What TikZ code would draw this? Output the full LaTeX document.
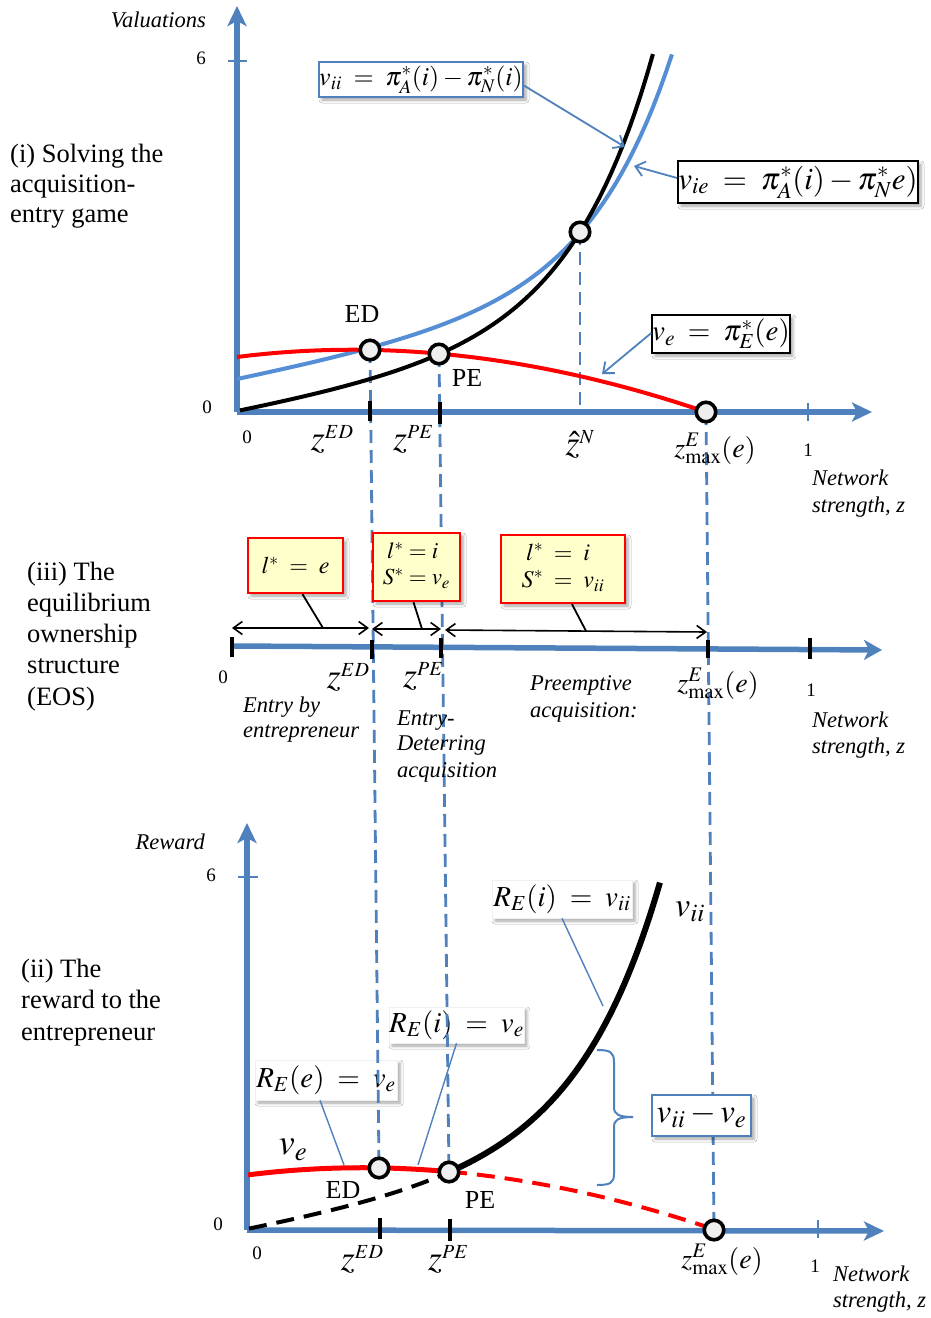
\documentclass[tikz,border=0pt]{standalone}
\usepackage{mathptmx}
\usepackage[no-math]{fontspec}
\setmainfont{Liberation Serif}
\usetikzlibrary{arrows.meta,shadows.blur,calc}
\definecolor{axblue}{HTML}{4F81BD}
\definecolor{cblue}{HTML}{558ED5}
\definecolor{dotfill}{HTML}{EEEEEE}
\definecolor{yel}{HTML}{FFFFCC}
\newcommand{\zs}[2]{{\fontsize{36}{36}\selectfont$#1$}\raisebox{12pt}{\fontsize{20}{20}\selectfont$#2$}}
\newcommand{\zmx}{$z^{E}_{\mathrm{max}}(e)$}
\tikzset{
 declare function={
   fb(\u)=18.4*\u+1.919*(exp(1.2*\u)-1);
   fu(\u)=33+19.7*\u+1.3*(exp(1.2*\u)-1);
   fr(\u)=55+12.715*\u-5.67*\u*\u+0.0978*\u*\u*\u;
 },
 axis/.style={line width=5.5pt, draw=axblue, -{Stealth[length=20pt,width=19pt,inset=5pt]}},
 vdash/.style={line width=2.8pt, draw=axblue, dash pattern=on 13pt off 7pt},
 btick/.style={line width=3.3pt, draw=black},
 bluetick/.style={line width=2pt, draw=axblue},
 dot/.style={circle, draw=black, line width=3.6pt, fill=dotfill, minimum size=19.5pt, inner sep=0pt},
 lead/.style={line width=1.8pt, draw=axblue, -{Straight Barb[length=9pt,width=15pt]}},
 thinlead/.style={line width=1.4pt, draw=axblue},
 blackline/.style={line width=1.8pt, draw=black},
 dbl/.style={line width=1.6pt, draw=black, {Straight Barb[length=9pt,width=13pt]}-{Straight Barb[length=9pt,width=13pt]}},
 shad/.style={blur shadow={shadow xshift=3pt, shadow yshift=-3pt, shadow blur radius=3pt, shadow opacity=35}},
 eqbox/.style={draw, fill=white, line width=1.8pt, inner sep=0pt, shad},
 ybox/.style={draw=red, line width=2.4pt, fill=yel, inner sep=0pt, shad},
 wbox/.style={fill=white, draw=gray!12, line width=0.6pt, inner sep=0pt, shad},
 side/.style={font=\fontsize{26.5}{31}\selectfont, anchor=base west, inner sep=0pt},
 ital/.style={font=\fontsize{22.5}{26}\selectfont\itshape, anchor=base west, inner sep=0pt},
 num/.style={font=\fontsize{19}{19}\selectfont, inner sep=0pt},
 big/.style={font=\fontsize{26}{26}\selectfont, inner sep=0pt},
 zlab/.style={font=\fontsize{28}{28}\selectfont, anchor=base, inner sep=0pt},
}
\begin{document}
\begin{tikzpicture}[x=1pt,y=-1pt]
\useasboundingbox (0,0) rectangle (930,1318);
\fill[white] (0,0) rectangle (930,1318);

% ---------------- key points ----------------
\coordinate (ED1) at (370,350);
\coordinate (PE1) at (439,354);
\coordinate (X1) at (580,232);
\coordinate (ZM1) at (706,412);
\coordinate (ZN) at (580,412);
\coordinate (ED3) at (379,1168);
\coordinate (PE3) at (449,1172);
\coordinate (ZM3) at (714,1230);

% ---------------- panel (i) ----------------
\coordinate (o1) at (237,412);
\coordinate (ytop1) at (237,6);
\coordinate (xend1) at (872,412);
\draw[axis] (o1) -- (ytop1);
\draw[axis] (o1) -- (xend1);
\draw[bluetick] (228,61) -- (247,61);
\draw[bluetick] (808,403) -- (808,421);

% bottom label boxes under dashed lines
\node[wbox, minimum width=133pt, minimum height=36pt, font=\fontsize{29}{29}\selectfont] (rei) at (456.5,1025) {$R_E(i)\;=\;v_e$};
\node[wbox, minimum width=142pt, minimum height=40pt, font=\fontsize{29}{29}\selectfont] (ree) at (326,1080) {$R_E(e)\;=\;v_e$};

% dashed verticals
\draw[vdash] (ED1) -- (ED3);
\draw[vdash] (PE1) -- (PE3);
\draw[vdash] (ZM1) -- (ZM3);
\draw[vdash] (X1) -- (ZN);

% curves panel (i)
\draw[line width=4pt, cblue] plot[domain=0:4.35, samples=70, variable=\s] ({237+100*\s},{412-fu(\s)});
\draw[line width=4pt, black] plot[domain=0.03:4.16, samples=70, variable=\s] ({237+100*\s},{411-fb(\s)});
\draw[line width=4pt, red] plot[domain=0:4.69, samples=70, variable=\s] ({237+100*\s},{412-fr(\s)});

\draw[btick] (370,401) -- (370,421);
\draw[btick] (440,402) -- (440,424);

\node[dot] (ed1) at (ED1) {};
\node[dot] (pe1) at (PE1) {};
\node[dot] (x1) at (X1) {};
\node[dot] (zm1) at (ZM1) {};

\node[ital, anchor=base east] (valu) at (206,27) {Valuations};
\node[num] (six1) at (201,58) {6};
\node[num] (zy1) at (207,407) {0};
\node[num] (zx1) at (247,437) {0};
\node[num] (one1) at (808,450) {1};
\node[big] (edl1) at (362,314) {ED};
\node[big] (pel1) at (467,378) {PE};
\node[zlab] (zed1) at (332,450) {\zs{z}{ED}};
\node[zlab] (zpe1) at (413,450) {\zs{z}{PE}};
\node[zlab] (zn1) at (580,455) {\zs{\hat{z}}{N}};
\node[zlab] (zmx1) at (715,457) {\zmx};
\node[ital] (nw1) at (812,485) {Network};
\node[ital] (ns1) at (812,512) {strength, z};

\node[side] (t1a) at (10,162) {(i) Solving the};
\node[side] (t1b) at (10,192) {acquisition-};
\node[side] (t1c) at (10,222) {entry game};

\node[eqbox, draw=axblue, minimum width=204pt, minimum height=35pt, font=\fontsize{26}{26}\selectfont] (bvii) at (421,79.5) {$v_{ii}\;=\;\pi^*_A(i)-\pi^*_N(i)$};
\node[eqbox, minimum width=240pt, minimum height=42pt, font=\fontsize{31}{31}\selectfont] (bvie) at (798,182) {$v_{ie}\;=\;\pi^*_A(i)-\pi^*_N e)$};
\node[eqbox, minimum width=134pt, minimum height=38pt, font=\fontsize{29}{29}\selectfont] (bve) at (721,334) {$v_e\;=\;\pi^*_E(e)$};
\coordinate (a1) at (625,147);
\coordinate (a2) at (634,166);
\coordinate (a3) at (602,374);
\draw[lead] ($(bvii.east)+(0,6)$) -- (a1);
\draw[lead] ($(bvie.west)+(0,-4)$) -- (a2);
\draw[lead] ($(bve.west)+(0,-1)$) -- (a3);

% ---------------- panel (iii) ----------------
\coordinate (o2) at (232,646);
\coordinate (xend2) at (882,650);
\draw[axis, -{Stealth[length=18pt,width=20pt,inset=5pt]}] (o2) -- (xend2);
\draw[btick] (232,637) -- (232,657);
\draw[btick] (372,640) -- (372,659);
\draw[btick] (441,638) -- (441,658);
\draw[btick] (708,640) -- (708,658);
\draw[btick] (810,638) -- (810,659);

\coordinate (m0) at (232,628);
\coordinate (m1) at (369,628);
\coordinate (m2) at (372,629);
\coordinate (m3) at (441,629);
\coordinate (m4) at (445,630);
\coordinate (m5) at (707,632);
\draw[dbl] (m0) -- (m1);
\draw[dbl] (m2) -- (m3);
\draw[dbl] (m4) -- (m5);

\node[ybox, minimum width=95pt, minimum height=55pt, font=\fontsize{24}{24}\selectfont] (yb1) at (295.5,565.5) {$l^*\;=\;e$};
\node[ybox, minimum width=87pt, minimum height=68pt, font=\fontsize{23}{23}\selectfont] (yb2) at (416.5,567) {$\begin{array}{@{}r@{\;=\;}l@{}} l^* & i\\[3pt] S^* & v_e\end{array}$};
\node[ybox, minimum width=124pt, minimum height=68pt, font=\fontsize{24}{24}\selectfont] (yb3) at (563,569) {$\begin{array}{@{}r@{\;\;=\;\;}l@{}} l^* & i\\[3pt] S^* & v_{ii}\end{array}$};
\coordinate (l1) at (323,628);
\coordinate (l2) at (422,629);
\coordinate (l3) at (586,631);
\draw[blackline] ($(yb1.south)+(7,0)$) -- (l1);
\draw[blackline] ($(yb2.south)+(-3,0)$) -- (l2);
\draw[blackline] ($(yb3.south)+(9,0)$) -- (l3);

\node[num] (z2) at (223,677) {0};
\node[zlab] (zed2) at (348,688) {\zs{z}{ED}};
\node[zlab] (zpe2) at (423,687) {\zs{z}{PE}};
\node[zlab] (zmx2) at (718,692) {\zmx};
\node[num] (one2) at (811,690) {1};
\node[ital] (nw2) at (812,727) {Network};
\node[ital] (ns2) at (812,753) {strength, z};
\node[ital] (eb1) at (243,712) {Entry by};
\node[ital] (eb2) at (243,737) {entrepreneur};
\node[ital] (ed2a) at (397,725) {Entry-};
\node[ital] (ed2b) at (397,750) {Deterring};
\node[ital] (ed2c) at (397,777) {acquisition};
\node[ital] (pa1) at (530,690) {Preemptive};
\node[ital] (pa2) at (530,717) {acquisition:};

\node[side] (t3a) at (27,580) {(iii) The};
\node[side] (t3b) at (27,611) {equilibrium};
\node[side] (t3c) at (27,642) {ownership};
\node[side] (t3d) at (27,673) {structure};
\node[side] (t3e) at (27,705) {(EOS)};

% ---------------- panel (ii) ----------------
\coordinate (o3) at (247,1230);
\coordinate (ytop3) at (247,823);
\coordinate (xend3) at (884,1231);
\draw[axis] (o3) -- (ytop3);
\draw[axis] (o3) -- (xend3);
\draw[bluetick] (238,877) -- (258,877);
\draw[bluetick] (818,1220) -- (818,1238);

\draw[line width=4pt, black, dash pattern=on 18pt off 10pt] plot[domain=0.02:2.02, samples=40, variable=\s] ({247+100*\s},{1229-fb(\s)});
\draw[line width=6pt, black] plot[domain=2.02:4.13, samples=60, variable=\s] ({247+100*\s},{1229-fb(\s)});
\draw[line width=4pt, red, dash pattern=on 18pt off 10pt] plot[domain=2.02:4.67, samples=50, variable=\s] ({247+100*\s},{1230-fr(\s)});
\draw[line width=5pt, red] plot[domain=0.01:2.02, samples=40, variable=\s] ({247+100*\s},{1230-fr(\s)});

\draw[btick] (380,1218) -- (380,1239);
\draw[btick] (450,1219) -- (450,1241);

\node[dot] (ed3) at (ED3) {};
\node[dot] (pe3) at (PE3) {};
\node[dot] (zm3) at (ZM3) {};

\node[ital, anchor=base east] (rew) at (205,849) {Reward};
\node[num] (six3) at (211,875) {6};
\node[num] (zy3) at (218,1224) {0};
\node[num] (zx3) at (257,1253) {0};
\node[num] (one3) at (815,1266) {1};
\node[big] (edl3) at (343,1190) {ED};
\node[big] (pel3) at (480,1200) {PE};
\node[zlab] (zed3) at (362,1270) {\zs{z}{ED}};
\node[zlab] (zpe3) at (448,1270) {\zs{z}{PE}};
\node[zlab] (zmx3) at (722,1268) {\zmx};
\node[ital] (nw3) at (833,1281) {Network};
\node[ital] (ns3) at (833,1307) {strength, z};
\node[font=\fontsize{36}{36}\selectfont, inner sep=0pt] (vel) at (293,1150) {$v_e$};
\node[font=\fontsize{34}{34}\selectfont, inner sep=0pt] (viil) at (690,912) {$v_{ii}$};

\node[side] (t2a) at (21,977) {(ii) The};
\node[side] (t2b) at (21,1008) {reward to the};
\node[side] (t2c) at (21,1040) {entrepreneur};

\node[wbox, minimum width=140pt, minimum height=38pt, font=\fontsize{29}{29}\selectfont] (rii) at (562,899) {$R_E(i)\;=\;v_{ii}$};
\coordinate (r1) at (603,1006);
\coordinate (r2) at (418,1165);
\coordinate (r3) at (344,1165);
\draw[thinlead] (rii.south) -- (r1);
\draw[thinlead] (rei.south) -- (r2);
\draw[thinlead] ($(ree.south)+(-6,0)$) -- (r3);

% brace
\draw[line width=2pt, axblue] (597,1050) .. controls (610,1050) and (614,1052) .. (614,1062) -- (614,1107) .. controls (614,1114) and (618,1117) .. (633,1117);
\draw[line width=2pt, axblue] (633,1117) .. controls (618,1117) and (614,1120) .. (614,1127) -- (614,1174) .. controls (614,1183) and (610,1185) .. (597,1185);

\node[eqbox, draw=axblue, minimum width=99pt, minimum height=41pt, font=\fontsize{33}{33}\selectfont] (dif) at (701.5,1115.5) {$v_{ii}-v_e$};
\end{tikzpicture}
\end{document}
